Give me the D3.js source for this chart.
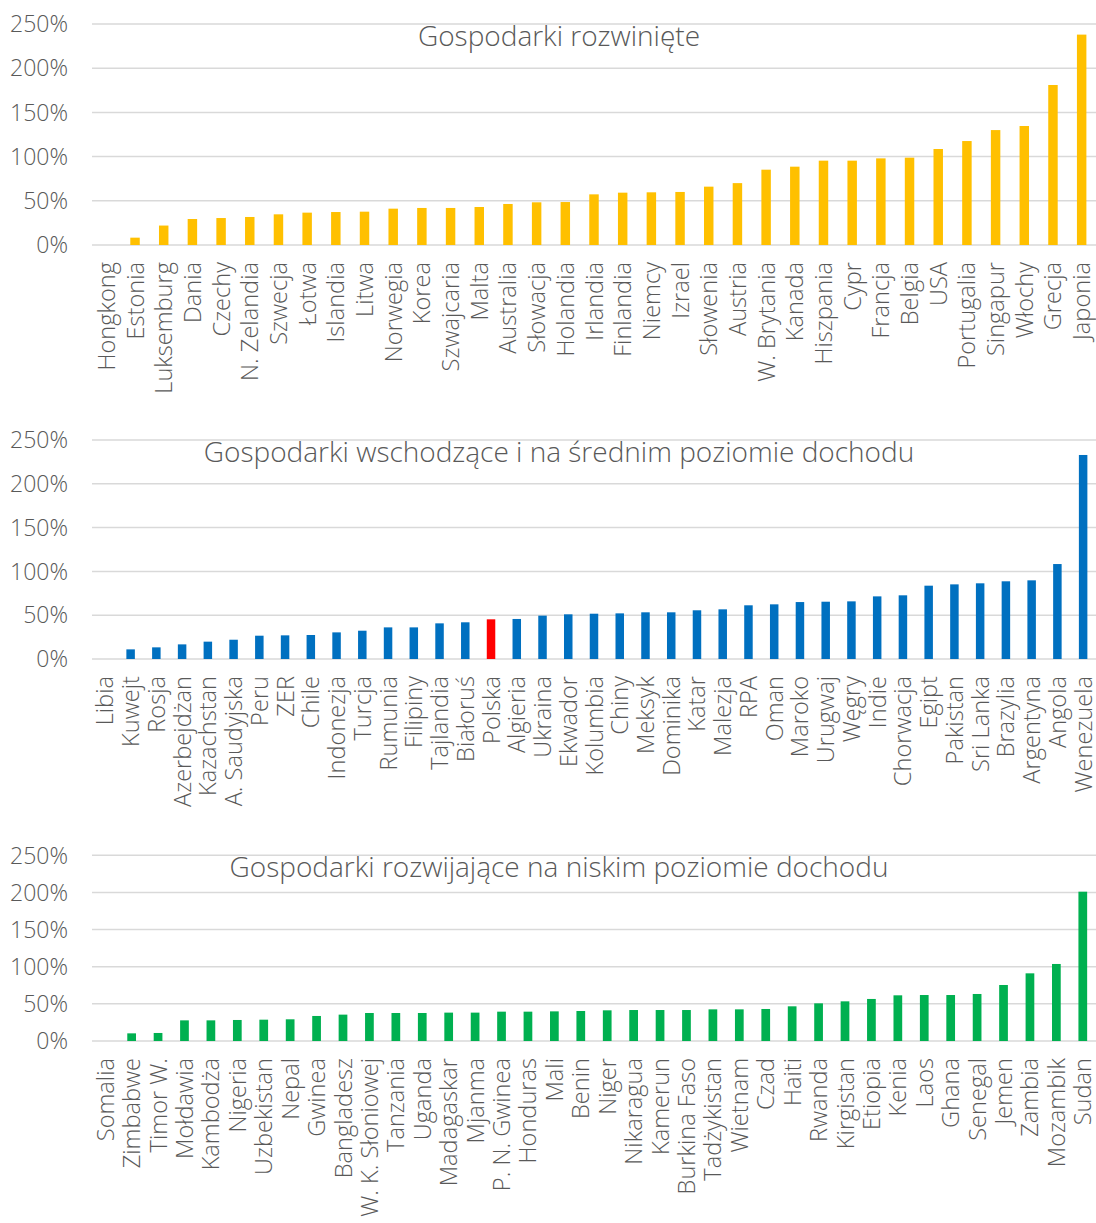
<html>
<head>
    <title>Dlug publiczny - trzy grupy gospodarek</title>
    <style>
        body { margin: 0; background: #fff; }
        text { font-family: "Open Sans", sans-serif; font-weight: 300; fill: #595959; }
        g.grid line { stroke: #d9d9d9; stroke-width: 1.5; }
        g.ticks text { font-size: 23px; }
        g.labels text { font-size: 23.6px; }
        text.title { font-size: 28px; }
    </style>
</head>
<body>
<div id="target"></div>

<script src="https://cdnjs.cloudflare.com/ajax/libs/d3/7.8.5/d3.min.js"></script>
<script>
    // --- dane ---
    var yTicks = [0, 50, 100, 150, 200, 250];

    var devCats = ['Hongkong', 'Estonia', 'Luksemburg', 'Dania', 'Czechy', 'N. Zelandia', 'Szwecja', 'Łotwa',
        'Islandia', 'Litwa', 'Norwegia', 'Korea', 'Szwajcaria', 'Malta', 'Australia', 'Słowacja', 'Holandia',
        'Irlandia', 'Finlandia', 'Niemcy', 'Izrael', 'Słowenia', 'Austria', 'W. Brytania', 'Kanada', 'Hiszpania',
        'Cypr', 'Francja', 'Belgia', 'USA', 'Portugalia', 'Singapur', 'Włochy', 'Grecja', 'Japonia'];
    var devVals = [0, 8.3, 22, 29.4, 30.5, 31.7, 34.7, 36.6, 37.3, 37.7, 41.1, 41.9, 41.9, 43, 46.4, 48.3, 48.6,
        57.3, 59.2, 59.6, 60, 66, 70, 85.2, 88.6, 95.4, 95.4, 98, 98.8, 108.6, 117.6, 130, 134.6, 181, 238];

    var emCats = ['Libia', 'Kuwejt', 'Rosja', 'Azerbejdżan', 'Kazachstan', 'A. Saudyjska', 'Peru', 'ZER', 'Chile',
        'Indonezja', 'Turcja', 'Rumunia', 'Filipiny', 'Tajlandia', 'Białoruś', 'Polska', 'Algieria', 'Ukraina',
        'Ekwador', 'Kolumbia', 'Chiny', 'Meksyk', 'Dominika', 'Katar', 'Malezja', 'RPA', 'Oman', 'Maroko',
        'Urugwaj', 'Węgry', 'Indie', 'Chorwacja', 'Egipt', 'Pakistan', 'Sri Lanka', 'Brazylia', 'Argentyna',
        'Angola', 'Wenezuela'];
    var emVals = [0, 11, 13.3, 16.7, 19.8, 22, 26.6, 27, 27.4, 30.4, 32.3, 36.1, 36.1, 40.7, 41.9, 45.3, 45.7,
        49.5, 51, 51.7, 52.1, 53.3, 53.3, 55.6, 56.7, 61.3, 62.4, 65, 65.4, 65.8, 71.5, 72.7, 83.7, 85.2, 86.4,
        88.7, 89.8, 108.4, 232.9];

    var lowCats = ['Somalia', 'Zimbabwe', 'Timor W.', 'Mołdawia', 'Kambodża', 'Nigeria', 'Uzbekistan', 'Nepal',
        'Gwinea', 'Bangladesz', 'W. K. Słoniowej', 'Tanzania', 'Uganda', 'Madagaskar', 'Mjanma', 'P. N. Gwinea',
        'Honduras', 'Mali', 'Benin', 'Niger', 'Nikaragua', 'Kamerun', 'Burkina Faso', 'Tadżykistan', 'Wietnam',
        'Czad', 'Haiti', 'Rwanda', 'Kirgistan', 'Etiopia', 'Kenia', 'Laos', 'Ghana', 'Senegal', 'Jemen', 'Zambia',
        'Mozambik', 'Sudan'];
    var lowVals = [0, 10.3, 10.8, 27.8, 27.8, 28.3, 28.7, 29.2, 33.7, 35.5, 37.7, 37.7, 37.7, 38.2, 38.2, 39.5,
        39.5, 39.9, 40.4, 41.3, 41.7, 41.7, 41.7, 42.6, 42.6, 43.1, 46.7, 50.7, 53.4, 56.6, 61.5, 61.9, 61.9,
        63.3, 75.4, 91.1, 103.7, 201];

    var width = 1096, height = 1223;
    var left = 92, right = 1096;

    var svg = d3.select('#target')
            .append('svg')
            .attr('width', width)
            .attr('height', height);

    //one panel = grid + bars + rotated category labels + title
    var drawPanel = function (opts) {
        var g = svg.append('g');

        var x = d3.scaleBand()
                .domain(opts.cats)
                .range([left, right])
                .paddingInner(0.67)
                .paddingOuter(0.335);

        var y = d3.scaleLinear()
                .domain([0, 250])
                .range([opts.y0, opts.y250]);

        var gGrid = g.append('g').attr('class', 'grid');
        gGrid.selectAll('line')
                .data(yTicks)
                .enter()
                .append('line')
                .attr('x1', left)
                .attr('x2', right)
                .attr('y1', function (t) { return y(t); })
                .attr('y2', function (t) { return y(t); });

        var gTicks = g.append('g').attr('class', 'ticks');
        gTicks.selectAll('text')
                .data(yTicks)
                .enter()
                .append('text')
                .attr('x', 68)
                .attr('y', function (t) { return y(t); })
                .attr('dy', '0.36em')
                .attr('text-anchor', 'end')
                .text(function (t) { return t + '%'; });

        g.append('g').attr('class', 'bars')
                .selectAll('rect')
                .data(opts.vals)
                .enter()
                .append('rect')
                .attr('x', function (v, i) { return x(opts.cats[i]); })
                .attr('width', x.bandwidth())
                .attr('y', function (v) { return y(v); })
                .attr('height', function (v) { return y(0) - y(v); })
                .attr('fill', function (v, i) {
                    return opts.cats[i] === opts.highlight ? '#ff0000' : opts.color;
                });

        var gLabels = g.append('g').attr('class', 'labels');
        gLabels.selectAll('text')
                .data(opts.cats)
                .enter()
                .append('text')
                .attr('transform', function (c) {
                    return 'translate(' + (x(c) + x.bandwidth() / 2) + ',' + (opts.y0 + 17) + ') rotate(-90)';
                })
                .attr('dy', '0.36em')
                .attr('text-anchor', 'end')
                .text(function (c) { return c; });

        g.append('text')
                .attr('class', 'title')
                .attr('x', 559)
                .attr('y', opts.titleY)
                .attr('text-anchor', 'middle')
                .text(opts.title);
    };

    drawPanel({
        cats: devCats, vals: devVals, color: '#ffc000',
        y0: 245, y250: 24, titleY: 46,
        title: 'Gospodarki rozwinięte'
    });

    drawPanel({
        cats: emCats, vals: emVals, color: '#0070c0', highlight: 'Polska',
        y0: 659, y250: 440, titleY: 462,
        title: 'Gospodarki wschodzące i na średnim poziomie dochodu'
    });

    drawPanel({
        cats: lowCats, vals: lowVals, color: '#00b050',
        y0: 1041, y250: 855.3, titleY: 877,
        title: 'Gospodarki rozwijające na niskim poziomie dochodu'
    });
</script>

</body>
</html>
